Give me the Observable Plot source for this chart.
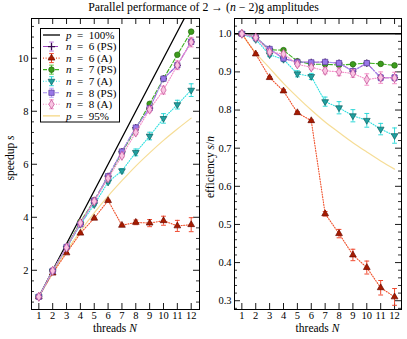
<!DOCTYPE html>
<html>
<head>
<meta charset="utf-8">
<script src="https://cdn.jsdelivr.net/npm/d3@7"></script>
<script src="https://cdn.jsdelivr.net/npm/@observablehq/plot@0.6"></script>
<style>
  body { margin: 0; background: #fff; }
  #wrap { position: relative; width: 407px; height: 339px; font-family: "Liberation Serif", "DejaVu Serif", serif; color: #000; }
  .abs { position: absolute; white-space: nowrap; }
  .title { left: 0; width: 407px; top: 0px; text-align: center; font-size: 11.8px; }
  .xlab { font-size: 11.5px; transform: translate(-50%, -50%); }
  .ylab { font-size: 11.5px; transform: translate(-50%, -50%) rotate(-90deg); }
  svg text { font-family: "Liberation Serif", "DejaVu Serif", serif; }
</style>
</head>
<body>
<div id="wrap"></div>
<script>
// ---------------- data ----------------
const threads = [1, 2, 3, 4, 5, 6, 7, 8, 9, 10, 11, 12];

// parallel efficiency s/n; errors are half-widths
// (n = 6 (PS) lies under the n = 8 (PS) points in the picture)
const effN6PS = [1.000, 0.990, 0.960, 0.935, 0.926, 0.925, 0.926, 0.923, 0.902, 0.923, 0.885, 0.885];
const errN6PS = [0.002, 0.003, 0.004, 0.004, 0.004, 0.004, 0.004, 0.005, 0.006, 0.005, 0.008, 0.008];
const effN6A  = [1.000, 0.947, 0.885, 0.850, 0.793, 0.772, 0.528, 0.476, 0.420, 0.387, 0.334, 0.310];
const errN6A  = [0.002, 0.003, 0.003, 0.004, 0.003, 0.003, 0.006, 0.011, 0.015, 0.017, 0.019, 0.022];
const effN7PS = [1.000, 0.991, 0.958, 0.957, 0.928, 0.920, 0.920, 0.918, 0.920, 0.923, 0.921, 0.917];
const errN7PS = [0.002, 0.003, 0.003, 0.003, 0.003, 0.003, 0.003, 0.003, 0.003, 0.003, 0.003, 0.003];
const effN7A  = [1.000, 0.985, 0.945, 0.933, 0.895, 0.888, 0.822, 0.806, 0.785, 0.773, 0.750, 0.733];
const errN7A  = [0.002, 0.004, 0.005, 0.006, 0.008, 0.008, 0.012, 0.016, 0.016, 0.018, 0.015, 0.020];
const effN8PS = [1.000, 0.990, 0.960, 0.935, 0.926, 0.925, 0.926, 0.923, 0.902, 0.923, 0.885, 0.885];
const errN8PS = [0.002, 0.003, 0.004, 0.004, 0.004, 0.004, 0.004, 0.005, 0.006, 0.005, 0.008, 0.008];
const effN8A  = [1.000, 0.990, 0.952, 0.947, 0.920, 0.912, 0.903, 0.900, 0.896, 0.880, 0.885, 0.884];
const errN8A  = [0.002, 0.004, 0.005, 0.005, 0.006, 0.006, 0.008, 0.010, 0.010, 0.015, 0.015, 0.015];

// reference curves: ideal scaling and p = 95%
const speedupIdeal = [1, 2, 3, 4, 5, 6, 7, 8, 9, 10, 11, 12];
const speedup95    = [1.00, 1.90, 2.73, 3.48, 4.17, 4.80, 5.38, 5.93, 6.43, 6.90, 7.33, 7.74];

// tick labels
const xTicks = [1, 2, 3, 4, 5, 6, 7, 8, 9, 10, 11, 12];
const speedupTicks = [2, 4, 6, 8, 10];
const efficiencyTicks = [0.3, 0.4, 0.5, 0.6, 0.7, 0.8, 0.9, 1.0];

const seriesNames = ["n = 6 (PS)", "n = 6 (A)", "n = 7 (PS)", "n = 7 (A)", "n = 8 (PS)", "n = 8 (A)"];

// ---------------- styles ----------------
const styles = [
  {eff: effN6PS, err: errN6PS, line: "#a048c0", dash: "5,2,1,2", ecol: "#b878d8", symbol: "plus", r: 2.4, fill: "none", mstroke: "#3a0a52", rotate: 0},
  {eff: effN6A,  err: errN6A,  line: "#f0502a", dash: "1,1.6",   ecol: "#f04a30", symbol: "triangle", r: 2.5, fill: "#a81c00", mstroke: "#6a0800", rotate: 0},
  {eff: effN7PS, err: errN7PS, line: "#3cb021", dash: "4,2",     ecol: "#5cc040", symbol: "circle", r: 2.8, fill: "#3c9c1c", mstroke: "#266810", rotate: 0},
  {eff: effN7A,  err: errN7A,  line: "#30e0e0", dash: "1,1.6",   ecol: "#30d8d8", symbol: "triangle", r: 2.5, fill: "#1fa0a0", mstroke: "#0e5e5e", rotate: 180},
  {eff: effN8PS, err: errN8PS, line: "#a890f0", dash: "4,2",     ecol: "#b8a0f8", symbol: "square", r: 3.0, fill: "#9a78e8", mstroke: "#5a3c9c", rotate: 0},
  {eff: effN8A,  err: errN8A,  line: "#f48cc8", dash: "1,1.6",   ecol: "#f490c8", symbol: "diamond", r: 2.8, fill: "#f9c4e2", mstroke: "#c04890", rotate: 0}
];

// rows
const rows = [];
styles.forEach((S, k) => threads.forEach((N, i) => {
  rows.push({k, N, eff: S.eff[i], err: S.err[i], s: S.eff[i] * N, serr: S.err[i] * N});
}));
const ideal = threads.map((N, i) => ({N, s: speedupIdeal[i], eff: speedupIdeal[i] / N}));
const p95 = threads.map((N, i) => ({N, s: speedup95[i], eff: speedup95[i] / N}));

const capSymbol = {draw(ctx, size) { const w = Math.sqrt(size / Math.PI); ctx.moveTo(-w, 0); ctx.lineTo(w, 0); }};
const FONT = '"Liberation Serif", "DejaVu Serif", serif';

function panel({width, height, mL, mR, mT, mB, xDomain, yDomain, yf, ef, majors, minors, fmt, idealMark}) {
  const W = width - mL - mR, H = height - mT - mB;
  const marks = [];
  // inward ticks
  marks.push(Plot.tickX(xTicks, {x: d => d, insetTop: H - 6, stroke: "#000", strokeWidth: 0.9}));
  marks.push(Plot.tickX(xTicks, {x: d => d, insetBottom: H - 6, stroke: "#000", strokeWidth: 0.9}));
  marks.push(Plot.tickY(majors, {y: d => d, insetRight: W - 6, stroke: "#000", strokeWidth: 0.9}));
  marks.push(Plot.tickY(majors, {y: d => d, insetLeft: W - 6, stroke: "#000", strokeWidth: 0.9}));
  marks.push(Plot.tickY(minors, {y: d => d, insetRight: W - 3, stroke: "#000", strokeWidth: 0.8}));
  marks.push(Plot.tickY(minors, {y: d => d, insetLeft: W - 3, stroke: "#000", strokeWidth: 0.8}));
  // reference curves
  marks.push(Plot.line(p95, {x: "N", y: yf, stroke: "#f6dd96", strokeWidth: 1.2, curve: "monotone-x", clip: true}));
  marks.push(idealMark);
  styles.forEach((S, k) => {
    const d = rows.filter(r => r.k === k);
    marks.push(Plot.line(d, {x: "N", y: yf, stroke: S.line, strokeWidth: 1.1, strokeDasharray: S.dash, clip: true}));
    marks.push(Plot.ruleX(d, {x: "N", y1: r => r[yf] - r[ef], y2: r => r[yf] + r[ef], stroke: S.ecol, strokeWidth: 1}));
    marks.push(Plot.dot(d, {x: "N", y: r => r[yf] - r[ef], symbol: capSymbol, r: 2.4, stroke: S.ecol, fill: "none", strokeWidth: 1}));
    marks.push(Plot.dot(d, {x: "N", y: r => r[yf] + r[ef], symbol: capSymbol, r: 2.4, stroke: S.ecol, fill: "none", strokeWidth: 1}));
    marks.push(Plot.dot(d, {x: "N", y: yf, symbol: S.symbol, r: S.r, fill: S.fill, stroke: S.mstroke, strokeWidth: S.symbol === "plus" ? 1.3 : 0.7, rotate: S.rotate}));
  });
  marks.push(Plot.frame({stroke: "#000", strokeWidth: 1}));
  marks.push(Plot.axisX(xTicks, {tickSize: 0, tickPadding: 2, label: null, fontSize: 10.5, fontFamily: FONT}));
  marks.push(Plot.axisY(majors, {tickSize: 0, tickPadding: 3, label: null, tickFormat: fmt, fontSize: 10.5, fontFamily: FONT}));
  return Plot.plot({
    width, height, marginLeft: mL, marginRight: mR, marginTop: mT, marginBottom: mB,
    x: {domain: xDomain}, y: {domain: yDomain},
    style: {fontFamily: FONT, fontSize: "10.5px", color: "#000", background: "transparent"},
    marks
  });
}

const wrap = document.getElementById("wrap");

const left = panel({
  width: 203, height: 339, mL: 31, mR: 4, mT: 18, mB: 30,
  xDomain: [0.47, 12.6], yDomain: [0.52, 11.5], yf: "s", ef: "serr",
  majors: speedupTicks, minors: d3.range(0.8, 11.5, 0.4).filter(v => Math.abs(v / 2 - Math.round(v / 2)) > 0.01),
  fmt: d3.format("d"),
  idealMark: Plot.line(ideal, {x: "N", y: "s", stroke: "#000", strokeWidth: 1.3, clip: true})
});
left.style.position = "absolute"; left.style.left = "0px"; left.style.top = "0px";
wrap.appendChild(left);

const right = panel({
  width: 204, height: 339, mL: 31, mR: 6, mT: 18, mB: 30,
  xDomain: [0.47, 12.5], yDomain: [0.277, 1.04], yf: "eff", ef: "err",
  majors: efficiencyTicks, minors: d3.range(0.28, 1.04, 0.02).filter(v => Math.abs(v * 10 - Math.round(v * 10)) > 0.01),
  fmt: d3.format(".1f"),
  idealMark: Plot.ruleY([1], {stroke: "#000", strokeWidth: 1.3})
});
right.style.position = "absolute"; right.style.left = "203px"; right.style.top = "0px";
wrap.appendChild(right);

// text
function addDiv(cls, html, x, y) {
  const d = document.createElement("div");
  d.className = "abs " + cls;
  d.innerHTML = html;
  if (x !== null) { d.style.left = x + "px"; d.style.top = y + "px"; }
  wrap.appendChild(d);
}
addDiv("title", "Parallel performance of 2 \u2192 (<i>n</i> \u2212 2)g amplitudes", null, null);
addDiv("xlab", "threads <i>N</i>", 115, 328);
addDiv("xlab", "threads <i>N</i>", 317.5, 328);
addDiv("ylab", "speedup <i>s</i>", 10, 158);
addDiv("ylab", "efficiency <i>s</i>/<i>n</i>", 210, 167);

// legend
const legendLabels = [
  {pre: "p", post: "\u2002=\u2002100%"},
  ...seriesNames.map(s => ({pre: "n", post: "\u2002=\u2002" + s.slice(4)})),
  {pre: "p", post: "\u2002=\u200295%"}
];
const lg = d3.select(wrap).append("svg")
  .attr("width", 80).attr("height", 95)
  .style("position", "absolute").style("left", "40px").style("top", "28px");
lg.append("rect").attr("x", 0.5).attr("y", 0.5).attr("width", 79).attr("height", 93.5)
  .attr("fill", "#fff").attr("stroke", "#000").attr("stroke-width", 1);
const symMap = {plus: d3.symbolPlus, triangle: d3.symbolTriangle, circle: d3.symbolCircle, square: d3.symbolSquare, diamond: d3.symbolDiamond};
legendLabels.forEach((L, i) => {
  const y = 7 + i * 11.55;
  const g = lg.append("g").attr("transform", `translate(0,${y})`);
  if (i === 0) {
    g.append("line").attr("x1", 3).attr("x2", 20).attr("stroke", "#000").attr("stroke-width", 1.3);
  } else if (i === 7) {
    g.append("line").attr("x1", 3).attr("x2", 20).attr("stroke", "#f6dd96").attr("stroke-width", 1.5);
  } else {
    const S = styles[i - 1];
    g.append("line").attr("x1", 3).attr("x2", 20).attr("stroke", S.line).attr("stroke-width", 1.1).attr("stroke-dasharray", S.dash);
    g.append("line").attr("x1", 11.5).attr("x2", 11.5).attr("y1", -4.5).attr("y2", 4.5).attr("stroke", S.ecol);
    g.append("line").attr("x1", 9.2).attr("x2", 13.8).attr("y1", -4.5).attr("y2", -4.5).attr("stroke", S.ecol);
    g.append("line").attr("x1", 9.2).attr("x2", 13.8).attr("y1", 4.5).attr("y2", 4.5).attr("stroke", S.ecol);
    g.append("path").attr("d", d3.symbol(symMap[S.symbol], Math.PI * S.r * S.r)())
      .attr("transform", `translate(11.5,0) rotate(${S.rotate})`)
      .attr("fill", S.symbol === "plus" ? "none" : S.fill)
      .attr("stroke", S.mstroke).attr("stroke-width", S.symbol === "plus" ? 1.3 : 0.7);
  }
  const t = g.append("text").attr("x", 26).attr("y", 3.8).attr("font-size", 11);
  t.append("tspan").attr("font-style", "italic").text(L.pre);
  t.append("tspan").text(L.post);
});
</script>
</body>
</html>
